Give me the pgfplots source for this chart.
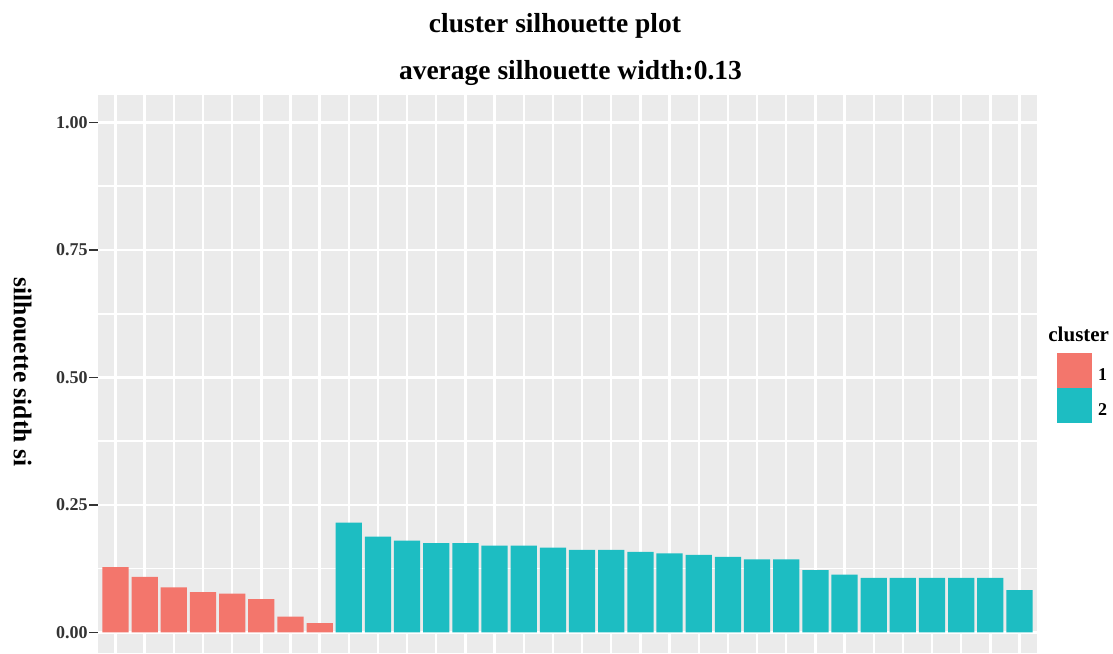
\documentclass[border=0pt]{standalone}
\usepackage{fontspec}
\setmainfont{Liberation Serif}
\usepackage{pgfplots}
\usepackage{pgfplotstable}
\pgfplotsset{compat=1.18}

\definecolor{panelgrey}{HTML}{EBEBEB}
\definecolor{clusterA}{HTML}{F3766C}
\definecolor{clusterB}{HTML}{1DBDC2}
\definecolor{tickgrey}{HTML}{333333}

% silhouette width of each observation, sorted within its cluster
\pgfplotstableread{
idx sil
1 0.128
2 0.109
3 0.088
4 0.079
5 0.076
6 0.065
7 0.031
8 0.018
}\clusterone

\pgfplotstableread{
idx sil
9  0.215
10 0.188
11 0.180
12 0.175
13 0.175
14 0.170
15 0.170
16 0.166
17 0.162
18 0.162
19 0.158
20 0.155
21 0.152
22 0.148
23 0.143
24 0.143
25 0.122
26 0.113
27 0.107
28 0.107
29 0.107
30 0.107
31 0.107
32 0.083
}\clustertwo

\begin{document}
\begin{tikzpicture}
\useasboundingbox (0pt,0pt) rectangle (556.5pt,326.5pt);
\begin{axis}[
  at={(49pt,0pt)}, anchor=south west,
  scale only axis, width=469.5pt, height=279pt,
  xmin=0.4, xmax=32.6, ymin=-0.0405, ymax=1.054,
  axis background/.style={fill=panelgrey},
  axis line style={draw=none},
  xtick={1,...,32}, xticklabels={},
  xtick style={draw=none},
  ytick={0,0.25,0.5,0.75,1},
  yticklabels={0.00,0.25,0.50,0.75,1.00},
  minor ytick={0.125,0.375,0.625,0.875},
  xmajorgrids, ymajorgrids, yminorgrids,
  major grid style={white, line width=1.2pt},
  minor grid style={white, line width=0.8pt},
  ytick pos=left, tick align=outside,
  major tick length=4.5pt, minor tick length=0pt,
  ytick style={draw=tickgrey, line width=0.7pt},
  yticklabel style={font=\bfseries\fontsize{9}{10}\selectfont, text=tickgrey, inner sep=0.5pt},
  ybar, bar width=0.9, bar shift=0pt,
  legend style={at={(axis description cs:1.0213,0.5376)}, anchor=north west,
    draw=none, fill=none, inner sep=0pt, outer sep=0pt,
    row sep=0pt, column sep=3pt,
    font=\bfseries\fontsize{9}{10}\selectfont,
    nodes={inner sep=0pt}},
  legend image code/.code={\fill[#1] (0pt,-5.75pt) rectangle (17.5pt,11.75pt);},
]
\addplot[fill=clusterA, draw=none] table[x=idx, y=sil] {\clusterone};
\addlegendentry{1}
\addplot[fill=clusterB, draw=none] table[x=idx, y=sil] {\clustertwo};
\addlegendentry{2}
\end{axis}

% titles
\node[font=\bfseries\fontsize{13.75}{16}\selectfont, anchor=base] at (277.5pt,310pt) {cluster silhouette plot};
\node[font=\bfseries\fontsize{13.75}{16}\selectfont, anchor=base] at (285.25pt,286.5pt) {average silhouette width:0.13};
% y axis title
\node[font=\bfseries\fontsize{12.75}{14}\selectfont, rotate=-90, anchor=center] at (11.25pt,140.5pt) {silhouette sidth si};
% legend title
\node[font=\bfseries\fontsize{10.5}{12}\selectfont, anchor=base west, inner sep=0pt] at (524pt,155.65pt) {cluster};
\end{tikzpicture}
\end{document}
